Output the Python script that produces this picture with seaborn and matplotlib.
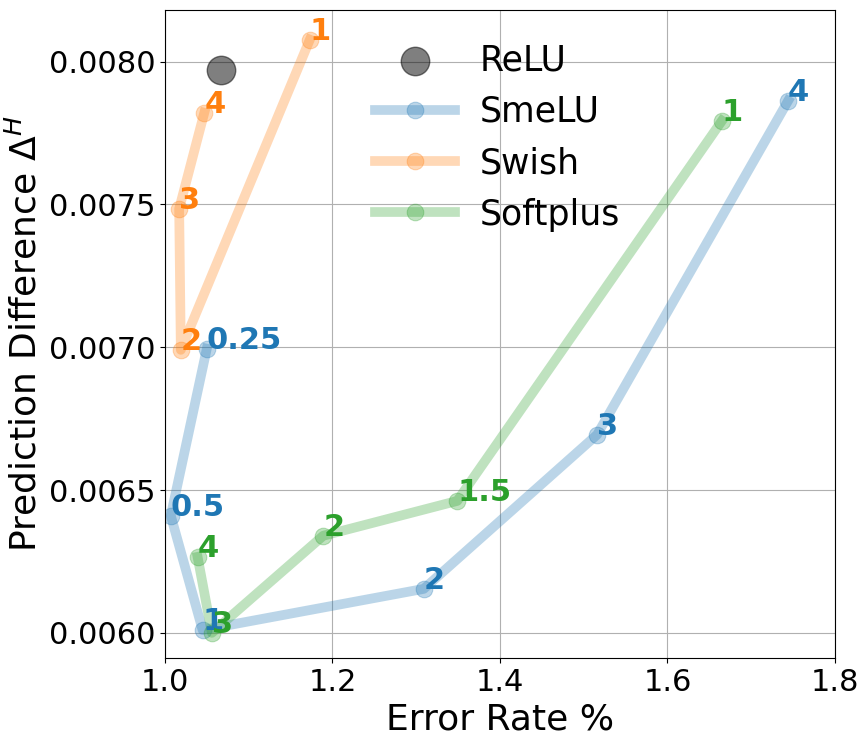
import seaborn as sns
import matplotlib.pyplot as plt
import pandas as pd
import numpy as np

# ---------------------------
# Data
# ---------------------------
relu_x = [1.067]
relu_y = [0.007972]

smelu_labels = ["0.25", "0.5", "1", "2", "3", "4"]
smelu_x = [1.050, 1.007, 1.045, 1.309, 1.516, 1.744]
smelu_y = [0.006995, 0.006410, 0.006010, 0.006154, 0.006694, 0.007863]

swish_labels = ["1", "2", "3", "4"]
swish_x = [1.173, 1.019, 1.017, 1.047]
swish_y = [0.008077, 0.006991, 0.007485, 0.007821]

softplus_labels = ["1", "1.5", "2", "3", "4"]
softplus_x = [1.665, 1.349, 1.189, 1.056, 1.039]
softplus_y = [0.007793, 0.006462, 0.006340, 0.006000, 0.006266]

series = [
    ("SmeLU", smelu_x, smelu_y, smelu_labels, "tab:blue"),
    ("Swish", swish_x, swish_y, swish_labels, "tab:orange"),
    ("Softplus", softplus_x, softplus_y, softplus_labels, "tab:green"),
]

# ---------------------------
# Visualization
# ---------------------------
fig = plt.figure(figsize=(8.68, 7.46), dpi=100)
ax = fig.add_axes([0.190, 0.118, 0.772, 0.869])

sns.scatterplot(x=relu_x, y=relu_y, s=420, color="black", alpha=0.5,
                edgecolor="black", linewidth=1, label="ReLU", ax=ax, zorder=3)

for name, xs, ys, labels, color in series:
    df = pd.DataFrame({"x": xs, "y": ys})
    sns.lineplot(data=df, x="x", y="y", sort=False, color=color, alpha=0.3,
                 linewidth=7, marker="o", markersize=12, markeredgecolor=color,
                 label=name, ax=ax)
    for lx, ly, lab in zip(xs, ys, labels):
        ax.text(lx, ly, lab, color=color, fontsize=22, fontweight="bold")

ax.set_xlim(1.0, 1.8)
ax.set_ylim(0.005912, 0.008182)
ax.set_xticks([1.0, 1.2, 1.4, 1.6, 1.8])
ax.set_yticks([0.0060, 0.0065, 0.0070, 0.0075, 0.0080])
ax.set_yticklabels(["0.0060", "0.0065", "0.0070", "0.0075", "0.0080"])
ax.tick_params(labelsize=22)
ax.grid(True, color="#b0b0b0", linewidth=0.8)
ax.set_axisbelow(True)

ax.set_xlabel("Error Rate %", fontsize=26)
ax.set_ylabel(r"Prediction Difference $\Delta^H$", fontsize=26)

leg = ax.legend(loc="upper left", fontsize=25, frameon=False,
                bbox_to_anchor=(0.267, 0.996), handlelength=2.3,
                handletextpad=0.7)

plt.savefig("out.png", dpi=100)
plt.close()
